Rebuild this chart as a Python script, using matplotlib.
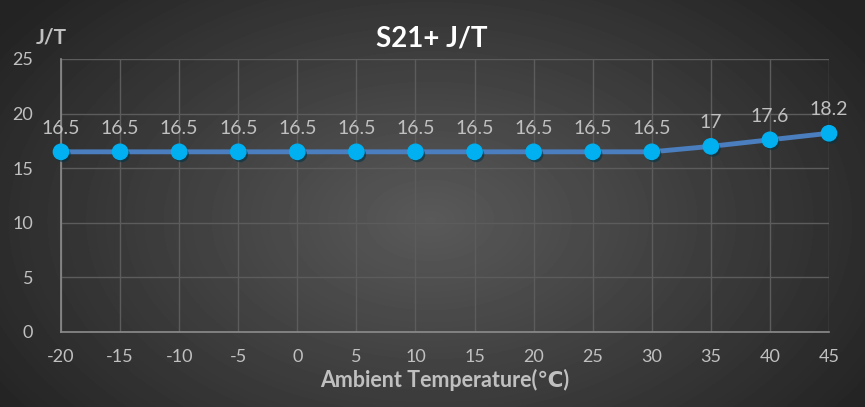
import numpy as np
import matplotlib.pyplot as plt
import matplotlib.patheffects as pe

temps = [-20, -15, -10, -5, 0, 5, 10, 15, 20, 25, 30, 35, 40, 45]
jt = [16.5, 16.5, 16.5, 16.5, 16.5, 16.5, 16.5, 16.5, 16.5, 16.5, 16.5, 17, 17.6, 18.2]
labels = ['16.5'] * 11 + ['17', '17.6', '18.2']

plt.rcParams['axes.unicode_minus'] = False
fam = ['Lato', 'DejaVu Sans']
txt = '#c0c0c0'

fig = plt.figure(figsize=(8.65, 4.07), dpi=100)

# radial gradient background
bg = fig.add_axes([0, 0, 1, 1])
yy, xx = np.mgrid[0:407, 0:865]
r = np.sqrt(((xx - 430) / 520.0) ** 2 + ((yy - 220) / 330.0) ** 2)
shade = np.clip(0.35 - 0.21 * r, 0.14, 0.35)
bg.imshow(shade, cmap='gray', vmin=0, vmax=1, aspect='auto', extent=[0, 1, 0, 1])
bg.axis('off')

ax = fig.add_axes([61 / 865, 75 / 407, 768 / 865, 273 / 407])
ax.patch.set_alpha(0)
ax.plot(temps, jt, color='#4a7ebf', lw=3.5, zorder=3, clip_on=False)
ax.plot(temps, jt, 'o', color='#00b0f0', ms=11, zorder=4, clip_on=False,
        path_effects=[pe.SimplePatchShadow(offset=(1.5, -2), alpha=0.6), pe.Normal()])
for x, y, s in zip(temps, jt, labels):
    ax.annotate(s, (x, y), xytext=(0, 11), textcoords='offset points', ha='center',
                va='bottom', color=txt, fontsize=14, family=fam)

ax.set_xlim(-20, 45)
ax.set_ylim(0, 25)
ax.set_xticks(temps)
ax.set_yticks([0, 5, 10, 15, 20, 25])
ax.grid(True, color='#5c5c5c', lw=1)
ax.set_axisbelow(True)
for s in ['top', 'right']:
    ax.spines[s].set_visible(False)
for s in ['left', 'bottom']:
    ax.spines[s].set_color('#8c8c8c')
    ax.spines[s].set_linewidth(1.2)
ax.tick_params(length=0, colors=txt, labelsize=13, pad=12)
for lab in ax.get_xticklabels() + ax.get_yticklabels():
    lab.set_family(fam)
ax.tick_params(axis='y', pad=20)

ax.set_xlabel('Ambient Temperature(℃)', color=txt, fontsize=15.5, fontweight='bold',
              family=fam, labelpad=3)
fig.text(432 / 865, 1 - 38 / 407, 'S21+ J/T', ha='center', va='center', color='white',
         fontsize=20, fontweight='bold', family=fam)
fig.text(51 / 865, 1 - 38 / 407, 'J/T', ha='center', va='center', color=txt,
         fontsize=15, fontweight='bold', family=fam)

fig.savefig('out.png', dpi=100)
